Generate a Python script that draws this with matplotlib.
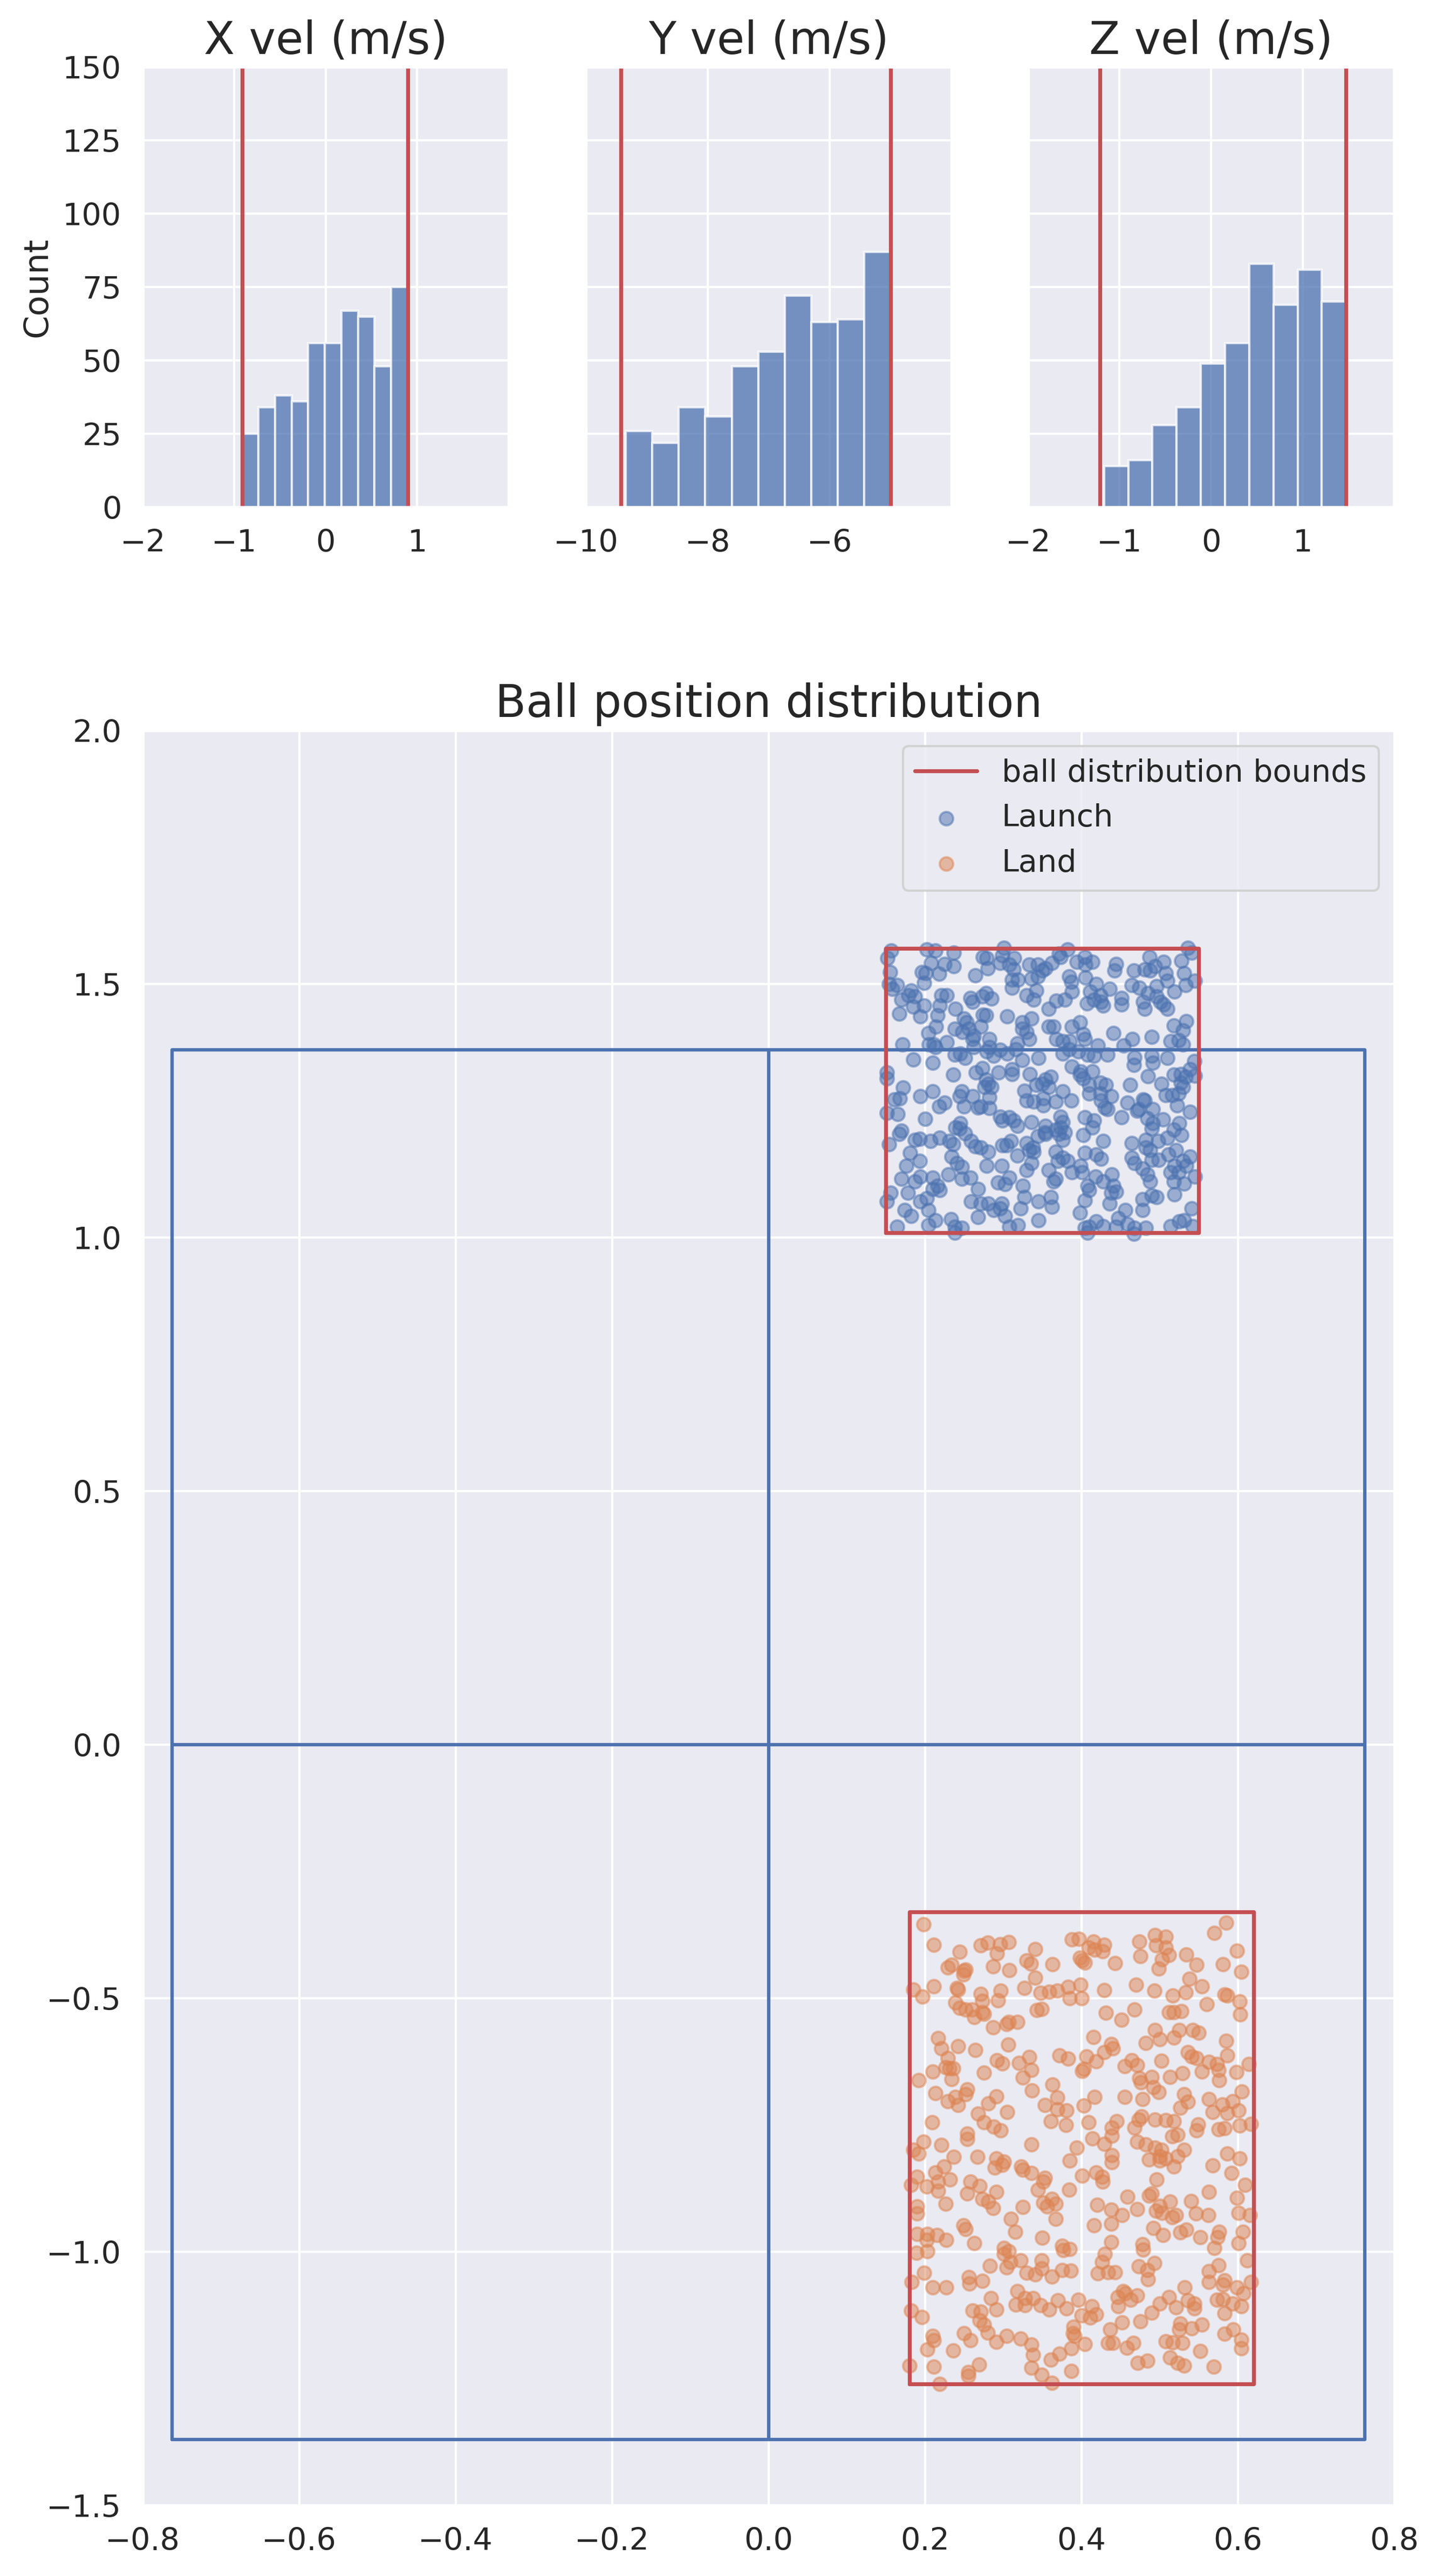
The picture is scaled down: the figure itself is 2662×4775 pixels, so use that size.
import numpy as np
import matplotlib
matplotlib.use('Agg')
import matplotlib.pyplot as plt
import seaborn as sns

sns.set_theme(style='darkgrid', font_scale=1.25)

# velocity histograms, 10 bins each
x_vel_counts = [25, 34, 38, 36, 56, 56, 67, 65, 48, 75]
x_vel_range = [-0.915, 0.895]
x_vel_bounds = [-0.915, 0.9]

y_vel_counts = [26, 22, 34, 31, 48, 53, 72, 63, 64, 87]
y_vel_range = [-9.345, -5.0]
y_vel_bounds = [-9.43, -5.0]

z_vel_counts = [14, 16, 28, 34, 49, 56, 83, 69, 81, 70]
z_vel_range = [-1.17, 1.477]
z_vel_bounds = [-1.215, 1.477]

# table (half sizes)
table_half_width = 0.7625
table_half_length = 1.37

# ball distribution bounds
launch_bounds_x = [0.15, 0.55]
launch_bounds_y = [1.01, 1.57]
land_bounds_x = [0.18, 0.62]
land_bounds_y = [-1.26, -0.33]

# launch positions (x, y)
launch_upper = [
    (0.157,1.566),(0.152,1.551),(0.202,1.568),(0.213,1.566),(0.237,1.562),(0.208,1.542),(0.225,1.540),(0.237,1.535),
    (0.155,1.524),(0.196,1.524),(0.201,1.522),(0.218,1.520),(0.264,1.517),(0.280,1.531),(0.279,1.551),(0.274,1.553),
    (0.301,1.571),(0.299,1.557),(0.296,1.542),(0.314,1.551),(0.308,1.538),(0.313,1.529),(0.333,1.538),(0.344,1.538),
    (0.350,1.527),(0.362,1.542),(0.373,1.553),(0.371,1.560),(0.382,1.568),(0.394,1.544),(0.404,1.553),(0.405,1.538),
    (0.414,1.544),(0.444,1.540),(0.442,1.527),(0.467,1.527),(0.481,1.529),(0.487,1.553),(0.488,1.527),(0.505,1.544),
    (0.508,1.522),(0.528,1.546),(0.536,1.571),(0.541,1.562),(0.494,1.535),
    (0.154,1.500),(0.164,1.498),(0.158,1.491),(0.199,1.502),(0.182,1.487),(0.179,1.478),(0.187,1.476),(0.170,1.469),
    (0.311,1.509),(0.319,1.509),(0.336,1.511),(0.344,1.515),(0.354,1.531),(0.311,1.493),(0.342,1.487),(0.384,1.515),
    (0.387,1.504),(0.405,1.513),(0.419,1.500),(0.436,1.491),(0.411,1.485),(0.424,1.478),(0.464,1.498),(0.474,1.493),
    (0.485,1.482),(0.496,1.496),(0.510,1.507),(0.531,1.522),(0.533,1.498),(0.545,1.507),(0.519,1.485),(0.221,1.478),
    (0.228,1.478),(0.258,1.473),(0.261,1.465),(0.278,1.482),(0.285,1.471),(0.273,1.476),(0.330,1.478),(0.339,1.469),
    (0.358,1.451),(0.379,1.469),(0.368,1.467),(0.388,1.485),(0.407,1.462),(0.416,1.469),(0.425,1.465),(0.428,1.458),
    (0.451,1.473),(0.451,1.460),(0.479,1.465),(0.496,1.476),(0.501,1.465),(0.505,1.460),(0.510,1.451),(0.481,1.451),
    (0.167,1.442),(0.194,1.436),(0.185,1.456),(0.199,1.458),(0.219,1.458),(0.239,1.451),(0.216,1.438),(0.250,1.432),
    (0.253,1.425),(0.274,1.440),(0.278,1.438),(0.305,1.436),(0.324,1.425),(0.336,1.432),(0.358,1.416),(0.364,1.416),
    (0.324,1.412),(0.330,1.405),(0.214,1.416),(0.204,1.403),(0.238,1.412),(0.248,1.405),(0.262,1.398),(0.271,1.416),
    (0.256,1.412),(0.282,1.392),(0.388,1.416),(0.398,1.425),(0.402,1.401),(0.404,1.392),(0.441,1.403),(0.465,1.392),
    (0.454,1.379),(0.490,1.396),(0.518,1.418),(0.534,1.427),(0.530,1.409),(0.514,1.387),(0.524,1.390),(0.171,1.381),
    (0.205,1.381),(0.211,1.381),(0.228,1.385),(0.261,1.392),(0.318,1.383),(0.333,1.392),(0.368,1.392),(0.376,1.387),
    (0.385,1.387),
    (0.213,1.376),(0.238,1.361),(0.245,1.363),(0.251,1.354),(0.262,1.376),(0.282,1.376),(0.279,1.367),(0.288,1.359),
    (0.296,1.370),(0.305,1.363),(0.316,1.372),(0.324,1.350),(0.345,1.354),(0.376,1.363),(0.384,1.372),(0.396,1.367),
    (0.408,1.361),(0.416,1.359),(0.421,1.379),(0.433,1.361),(0.468,1.356),(0.467,1.341),(0.490,1.359),(0.491,1.345),
    (0.510,1.354),(0.530,1.381),(0.544,1.348),(0.539,1.332),(0.185,1.351),(0.210,1.345),(0.151,1.326),(0.151,1.314),
    (0.236,1.321),(0.265,1.326),(0.273,1.334),(0.294,1.326),(0.311,1.332),(0.311,1.323),(0.334,1.323),(0.388,1.337),
    (0.399,1.328),(0.414,1.328),(0.485,1.318),(0.518,1.321),(0.527,1.323),(0.533,1.317),(0.545,1.319),
]
launch_lower = [
    (0.278,1.312),(0.281,1.303),(0.276,1.297),(0.285,1.297),(0.342,1.301),(0.354,1.312),(0.361,1.317),(0.350,1.303),
    (0.358,1.297),(0.398,1.321),(0.402,1.314),(0.410,1.301),(0.424,1.306),(0.431,1.301),(0.462,1.301),(0.502,1.303),
    (0.527,1.306),(0.530,1.297),(0.516,1.281),(0.524,1.284),(0.508,1.281),(0.172,1.296),(0.161,1.273),(0.168,1.275),
    (0.194,1.279),(0.210,1.288),(0.247,1.288),(0.244,1.279),(0.261,1.279),(0.282,1.277),(0.250,1.259),(0.271,1.259),
    (0.268,1.257),(0.282,1.255),(0.327,1.290),(0.330,1.270),(0.339,1.268),(0.351,1.275),(0.351,1.261),(0.367,1.268),
    (0.376,1.288),(0.387,1.270),(0.410,1.284),(0.424,1.284),(0.438,1.279),(0.425,1.270),(0.430,1.257),(0.433,1.253),
    (0.459,1.266),(0.479,1.273),(0.481,1.270),(0.522,1.261),(0.539,1.248),(0.491,1.253),(0.473,1.253),(0.151,1.246),
    (0.165,1.244),(0.225,1.266),(0.218,1.259),
    (0.200,1.234),(0.373,1.239),(0.376,1.228),(0.296,1.239),(0.308,1.237),(0.313,1.231),(0.318,1.220),(0.299,1.231),
    (0.336,1.228),(0.354,1.220),(0.373,1.217),(0.379,1.208),(0.353,1.208),(0.367,1.213),(0.404,1.237),(0.416,1.231),
    (0.414,1.217),(0.451,1.237),(0.471,1.250),(0.484,1.235),(0.491,1.226),(0.490,1.215),(0.504,1.233),(0.528,1.202),
    (0.525,1.226),(0.518,1.213),(0.245,1.226),(0.239,1.217),(0.251,1.206),(0.170,1.211),(0.167,1.204),(0.244,1.215),
    (0.187,1.193),(0.193,1.195),(0.207,1.191),(0.219,1.197),(0.231,1.191),(0.236,1.184),(0.259,1.191),(0.264,1.180),
    (0.154,1.184),(0.181,1.167),(0.271,1.178),(0.281,1.169),(0.304,1.182),(0.310,1.191),(0.299,1.182),(0.330,1.186),
    (0.338,1.178),(0.344,1.200),(0.354,1.204),(0.371,1.204),(0.376,1.193),(0.402,1.202),(0.428,1.191),(0.464,1.186),
    (0.482,1.193),(0.498,1.191),(0.510,1.197),(0.482,1.178),(0.488,1.173),
    (0.333,1.173),(0.339,1.169),(0.318,1.162),(0.367,1.169),(0.376,1.158),(0.382,1.151),(0.370,1.151),(0.404,1.167),
    (0.419,1.164),(0.425,1.155),(0.464,1.158),(0.468,1.147),(0.478,1.136),(0.490,1.153),(0.499,1.153),(0.511,1.164),
    (0.521,1.173),(0.539,1.160),(0.530,1.151),(0.519,1.142),(0.534,1.142),(0.524,1.129),(0.514,1.129),(0.176,1.142),
    (0.193,1.151),(0.234,1.160),(0.241,1.147),(0.247,1.140),(0.279,1.142),(0.298,1.142),(0.336,1.147),(0.330,1.133),
    (0.358,1.133),(0.367,1.116),(0.364,1.111),(0.388,1.129),(0.399,1.142),(0.401,1.129),(0.170,1.116),(0.187,1.111),
    (0.194,1.120),(0.210,1.118),(0.230,1.125),(0.258,1.118),(0.247,1.116),(0.293,1.109),(0.302,1.105),(0.308,1.118),
    (0.325,1.102),(0.484,1.125),(0.488,1.111),(0.545,1.120),(0.518,1.111),(0.531,1.107),(0.418,1.120),(0.408,1.102),
    (0.428,1.111),(0.439,1.125),(0.441,1.102),
    (0.156,1.089),(0.151,1.072),(0.178,1.089),(0.216,1.102),(0.219,1.094),(0.210,1.096),(0.268,1.096),(0.202,1.078),
    (0.194,1.072),(0.204,1.054),(0.174,1.054),(0.182,1.043),(0.259,1.072),(0.271,1.067),(0.281,1.067),(0.298,1.067),
    (0.296,1.058),(0.288,1.054),(0.302,1.043),(0.327,1.080),(0.322,1.058),(0.345,1.072),(0.361,1.080),(0.362,1.061),
    (0.410,1.094),(0.404,1.074),(0.438,1.089),(0.444,1.091),(0.436,1.067),(0.478,1.076),(0.490,1.083),(0.496,1.080),
    (0.519,1.085),(0.478,1.054),(0.456,1.054),(0.541,1.058),(0.398,1.049),(0.345,1.034),(0.268,1.041),(0.164,1.021),
    (0.204,1.025),(0.213,1.034),(0.233,1.036),(0.238,1.021),(0.247,1.019),(0.308,1.021),(0.319,1.025),(0.404,1.019),
    (0.410,1.021),(0.419,1.032),(0.428,1.023),(0.444,1.021),(0.447,1.038),(0.459,1.027),(0.468,1.019),(0.482,1.019),
    (0.514,1.023),(0.525,1.032),(0.531,1.034),(0.542,1.023),(0.467,1.008),(0.238,1.010),(0.408,1.010),
]

# land positions (x, y)
land_upper = [
    (0.198,-0.354),(0.211,-0.395),(0.244,-0.408),(0.271,-0.396),(0.280,-0.390),(0.296,-0.393),(0.307,-0.389),(0.292,-0.412),
    (0.341,-0.403),(0.388,-0.384),(0.397,-0.383),(0.415,-0.388),(0.429,-0.395),(0.409,-0.400),(0.417,-0.404),(0.427,-0.407),
    (0.474,-0.388),(0.494,-0.375),(0.508,-0.379),(0.495,-0.396),(0.508,-0.400),(0.570,-0.371),(0.585,-0.351),(0.599,-0.406),
    (0.475,-0.417),(0.512,-0.415),(0.503,-0.423),(0.534,-0.414),(0.547,-0.434),(0.581,-0.433),(0.604,-0.448),(0.229,-0.439),
    (0.234,-0.434),(0.252,-0.443),(0.250,-0.446),(0.249,-0.453),(0.287,-0.437),(0.308,-0.445),(0.330,-0.425),(0.335,-0.432),
    (0.341,-0.459),(0.363,-0.433),(0.398,-0.420),(0.401,-0.425),(0.404,-0.430),(0.443,-0.431),(0.499,-0.441),(0.538,-0.462),
    (0.554,-0.476),(0.586,-0.494),(0.583,-0.492),(0.602,-0.506),(0.603,-0.532),(0.560,-0.512),(0.517,-0.494),(0.533,-0.488),
    (0.493,-0.485),(0.470,-0.473),(0.429,-0.484),(0.185,-0.483),(0.197,-0.497),(0.211,-0.476),(0.241,-0.480),(0.242,-0.483),
    (0.271,-0.491),(0.273,-0.505),(0.293,-0.504),(0.297,-0.485),(0.327,-0.480),(0.348,-0.489),(0.359,-0.487),(0.369,-0.485),
    (0.383,-0.478),(0.399,-0.473),(0.385,-0.500),(0.400,-0.500),(0.239,-0.508),(0.244,-0.519),(0.252,-0.522),(0.260,-0.522),
    (0.263,-0.537),(0.273,-0.528),(0.275,-0.531),(0.343,-0.523),(0.349,-0.521),(0.431,-0.529),(0.451,-0.542),(0.468,-0.522),
    (0.512,-0.528),(0.518,-0.528),(0.528,-0.525),(0.307,-0.547),(0.304,-0.551),(0.318,-0.547),(0.287,-0.557),
    (0.217,-0.579),(0.221,-0.599),(0.242,-0.594),(0.264,-0.602),(0.306,-0.591),(0.229,-0.618),(0.231,-0.638),(0.226,-0.636),
    (0.236,-0.638),(0.210,-0.645),(0.192,-0.661),(0.234,-0.659),(0.275,-0.647),(0.292,-0.622),(0.299,-0.629),(0.320,-0.627),
    (0.333,-0.616),(0.336,-0.641),(0.325,-0.656),(0.372,-0.613),(0.383,-0.619),(0.406,-0.615),(0.419,-0.624),(0.429,-0.606),
    (0.438,-0.590),(0.440,-0.599),(0.415,-0.576),(0.403,-0.639),(0.401,-0.643),(0.455,-0.634),(0.464,-0.622),(0.471,-0.632),
    (0.474,-0.657),(0.476,-0.666),(0.490,-0.655),(0.492,-0.675),(0.499,-0.685),(0.482,-0.588),(0.494,-0.563),(0.500,-0.581),
    (0.518,-0.577),(0.525,-0.563),(0.542,-0.563),(0.550,-0.568),(0.536,-0.606),(0.541,-0.615),(0.547,-0.618),(0.585,-0.584),
    (0.586,-0.613),(0.563,-0.625),(0.573,-0.630),(0.575,-0.641),(0.554,-0.645),(0.598,-0.646),(0.614,-0.630),(0.502,-0.623),
    (0.513,-0.655),(0.529,-0.648),(0.576,-0.661),(0.605,-0.684),(0.213,-0.687),(0.229,-0.703),(0.239,-0.694),(0.242,-0.710),
    (0.252,-0.689),(0.254,-0.680),(0.281,-0.707),(0.291,-0.693),(0.268,-0.728),(0.275,-0.744),(0.288,-0.753),(0.297,-0.760),
    (0.305,-0.724),(0.209,-0.744),(0.198,-0.783),(0.221,-0.789),(0.254,-0.767),(0.254,-0.778),(0.337,-0.682),(0.363,-0.670),
    (0.369,-0.696),(0.353,-0.710),(0.369,-0.719),(0.381,-0.721),(0.361,-0.742),(0.380,-0.750),(0.403,-0.712),(0.417,-0.694),
    (0.455,-0.695),(0.478,-0.699),(0.531,-0.689),(0.536,-0.704),(0.526,-0.716),(0.563,-0.699),(0.580,-0.709),(0.593,-0.703),
    (0.601,-0.721),(0.568,-0.724),(0.586,-0.726),(0.602,-0.751),(0.583,-0.756),(0.575,-0.758),(0.617,-0.748),(0.549,-0.749),
    (0.547,-0.760),(0.508,-0.740),(0.518,-0.742),(0.494,-0.739),(0.477,-0.733),(0.473,-0.739),(0.468,-0.755),(0.445,-0.742),
    (0.439,-0.755),(0.439,-0.771),(0.414,-0.776),(0.429,-0.787),(0.409,-0.745),(0.471,-0.783),(0.482,-0.788),(0.494,-0.794),
    (0.502,-0.799),(0.516,-0.772),(0.523,-0.769),(0.531,-0.799),(0.586,-0.806),(0.336,-0.788),(0.394,-0.795),(0.185,-0.799),
    (0.192,-0.806),
]
land_lower = [
    (0.237,-0.813),(0.267,-0.813),(0.291,-0.816),(0.301,-0.822),(0.299,-0.829),(0.289,-0.834),(0.323,-0.832),(0.325,-0.838),
    (0.336,-0.845),(0.353,-0.854),(0.351,-0.862),(0.344,-0.877),(0.385,-0.820),(0.384,-0.877),(0.401,-0.850),(0.419,-0.843),
    (0.426,-0.852),(0.427,-0.862),(0.439,-0.809),(0.439,-0.823),(0.486,-0.818),(0.500,-0.811),(0.500,-0.820),(0.508,-0.816),
    (0.518,-0.832),(0.523,-0.811),(0.568,-0.830),(0.602,-0.816),(0.592,-0.845),(0.496,-0.857),(0.609,-0.868),(0.599,-0.893),
    (0.563,-0.882),(0.190,-0.852),(0.182,-0.868),(0.202,-0.871),(0.213,-0.843),(0.224,-0.832),(0.232,-0.857),(0.217,-0.861),
    (0.217,-0.880),(0.226,-0.905),(0.258,-0.862),(0.270,-0.870),(0.254,-0.885),(0.273,-0.896),(0.281,-0.901),(0.291,-0.882),
    (0.287,-0.914),(0.190,-0.910),(0.190,-0.924),(0.310,-0.935),(0.315,-0.960),(0.325,-0.912),(0.351,-0.903),(0.356,-0.910),
    (0.362,-0.896),(0.367,-0.905),(0.367,-0.935),(0.420,-0.907),(0.438,-0.917),(0.452,-0.928),(0.471,-0.916),(0.459,-0.891),
    (0.486,-0.889),(0.490,-0.885),(0.495,-0.919),(0.503,-0.923),(0.500,-0.909),(0.513,-0.901),(0.516,-0.932),(0.521,-0.928),
    (0.540,-0.900),(0.546,-0.924),(0.562,-0.928),(0.416,-0.948),(0.438,-0.945),(0.492,-0.953),(0.504,-0.967),(0.526,-0.962),
    (0.534,-0.956),(0.552,-0.971),(0.576,-0.960),(0.574,-0.971),(0.570,-0.992),(0.606,-0.960),(0.601,-0.983),(0.615,-0.928),
    (0.601,-0.923),(0.249,-0.948),(0.252,-0.955),(0.190,-0.965),(0.203,-0.965),(0.215,-0.967),(0.227,-0.976),(0.202,-0.976),
    (0.263,-0.983),(0.189,-1.002),(0.203,-0.999),(0.301,-0.992),(0.307,-0.999),(0.301,-1.004),(0.304,-1.031),(0.322,-1.017),
    (0.309,-1.020),(0.283,-1.028),(0.349,-1.017),(0.350,-0.972),(0.375,-0.988),(0.377,-0.997),(0.385,-0.995),(0.349,-1.033),
    (0.341,-1.045),(0.330,-1.041),(0.362,-1.049),(0.375,-1.036),(0.386,-1.037),(0.438,-0.981),(0.430,-1.004),(0.426,-1.020),
    (0.421,-1.042),(0.434,-1.040),(0.443,-1.040),(0.478,-0.985),(0.479,-0.996),(0.473,-1.029),(0.484,-1.036),(0.485,-1.054),
    (0.493,-1.022),(0.575,-1.026),(0.563,-1.038),(0.563,-1.059),(0.583,-1.056),(0.581,-1.065),(0.599,-1.070),(0.612,-1.017),
    (0.617,-1.059),(0.607,-1.082),(0.199,-1.041),(0.183,-1.059),(0.256,-1.050),(0.257,-1.063),(0.273,-1.057),(0.210,-1.070),
    (0.227,-1.070),(0.182,-1.116),(0.196,-1.129),(0.284,-1.091),(0.291,-1.114),(0.261,-1.116),(0.271,-1.118),(0.270,-1.135),
    (0.275,-1.143),(0.280,-1.159),(0.250,-1.160),(0.258,-1.174),(0.291,-1.178),(0.304,-1.166),(0.322,-1.171),(0.336,-1.183),
    (0.318,-1.077),(0.316,-1.104),(0.328,-1.091),(0.328,-1.105),(0.338,-1.091),(0.348,-1.105),(0.359,-1.114),(0.370,-1.096),
    (0.381,-1.111),(0.396,-1.095),(0.400,-1.125),(0.413,-1.107),(0.411,-1.130),(0.419,-1.123),(0.532,-1.070),(0.453,-1.077),
    (0.456,-1.082),(0.471,-1.086),(0.463,-1.095),(0.446,-1.089),(0.447,-1.107),(0.512,-1.089),(0.500,-1.102),(0.490,-1.120),
    (0.521,-1.109),(0.536,-1.096),(0.544,-1.102),(0.544,-1.112),(0.573,-1.095),(0.581,-1.093),(0.593,-1.102),(0.604,-1.107),
    (0.583,-1.121),(0.526,-1.141),(0.525,-1.153),(0.541,-1.151),(0.554,-1.143),(0.452,-1.139),(0.437,-1.153),(0.475,-1.137),
    (0.390,-1.148),(0.389,-1.160),(0.391,-1.166),(0.404,-1.182),(0.434,-1.180),(0.440,-1.180),(0.458,-1.189),(0.466,-1.180),
    (0.508,-1.176),(0.517,-1.179),(0.529,-1.180),(0.583,-1.162),(0.594,-1.153),(0.604,-1.173),(0.604,-1.190),(0.552,-1.196),
    (0.210,-1.166),(0.211,-1.174),(0.203,-1.192),(0.236,-1.194),(0.338,-1.203),(0.372,-1.201),(0.387,-1.190),(0.361,-1.213),
    (0.180,-1.224),(0.211,-1.226),(0.269,-1.222),(0.255,-1.237),(0.255,-1.244),(0.336,-1.229),(0.349,-1.242),(0.362,-1.258),
    (0.387,-1.235),(0.472,-1.219),(0.484,-1.215),(0.513,-1.208),(0.523,-1.219),(0.531,-1.224),(0.569,-1.226),(0.219,-1.260),
]

launch = np.array(launch_upper + launch_lower)
land = np.array(land_upper + land_lower)

red = 'C3'
fig = plt.figure(figsize=(2662 / 300, 4775 / 300), dpi=300)

# top row: velocity histograms
hist_left = [0.0995, 0.408, 0.716]
hist_specs = [
    ('X vel (m/s)', x_vel_counts, x_vel_range, x_vel_bounds, (-2, 2), [-2, -1, 0, 1]),
    ('Y vel (m/s)', y_vel_counts, y_vel_range, y_vel_bounds, (-10, -4), [-10, -8, -6]),
    ('Z vel (m/s)', z_vel_counts, z_vel_range, z_vel_bounds, (-2, 2), [-2, -1, 0, 1]),
]
first = None
for left, (title, counts, rng, bounds, xlim, xticks) in zip(hist_left, hist_specs):
    ax = fig.add_axes([left, 0.8031, 0.2547, 0.1709], sharey=first)
    edges = np.linspace(rng[0], rng[1], len(counts) + 1)
    ax.bar(edges[:-1], counts, width=np.diff(edges), align='edge',
           color='C0', alpha=0.75, edgecolor='white', linewidth=1)
    for b in bounds:
        ax.axvline(b, color=red, linewidth=1.75)
    ax.set_xlim(*xlim)
    ax.set_xticks(xticks)
    ax.set_title(title, fontsize=20)
    if first is None:
        first = ax
        ax.set_ylim(0, 150)
        ax.set_yticks(np.arange(0, 151, 25))
        ax.set_ylabel('Count')
    else:
        ax.tick_params(labelleft=False)

# main plot: ball positions over the table
ax = fig.add_axes([0.0995, 0.0274, 0.8715, 0.689])
tw, tl = table_half_width, table_half_length
ax.plot([-tw, tw, tw, -tw, -tw], [-tl, -tl, tl, tl, -tl], color='C0', linewidth=1.5)
ax.plot([0, 0], [-tl, tl], color='C0', linewidth=1.5)
ax.plot([-tw, tw], [0, 0], color='C0', linewidth=1.5)


def draw_bounds(ax, bx, by, **kw):
    ax.plot([bx[0], bx[1], bx[1], bx[0], bx[0]],
            [by[0], by[0], by[1], by[1], by[0]], color=red, linewidth=1.75, **kw)


draw_bounds(ax, launch_bounds_x, launch_bounds_y, label='ball distribution bounds')
draw_bounds(ax, land_bounds_x, land_bounds_y)

ax.scatter(launch[:, 0], launch[:, 1], color='C0', alpha=0.5, label='Launch')
ax.scatter(land[:, 0], land[:, 1], color='C1', alpha=0.5, label='Land')

ax.set_xlim(-0.8, 0.8)
ax.set_ylim(-1.5, 2.0)
ax.set_xticks(np.arange(-0.8, 0.81, 0.2))
ax.set_yticks(np.arange(-1.5, 2.01, 0.5))
ax.set_title('Ball position distribution', fontsize=20)
ax.legend(loc='upper right')

fig.savefig('out.png', dpi=300)
